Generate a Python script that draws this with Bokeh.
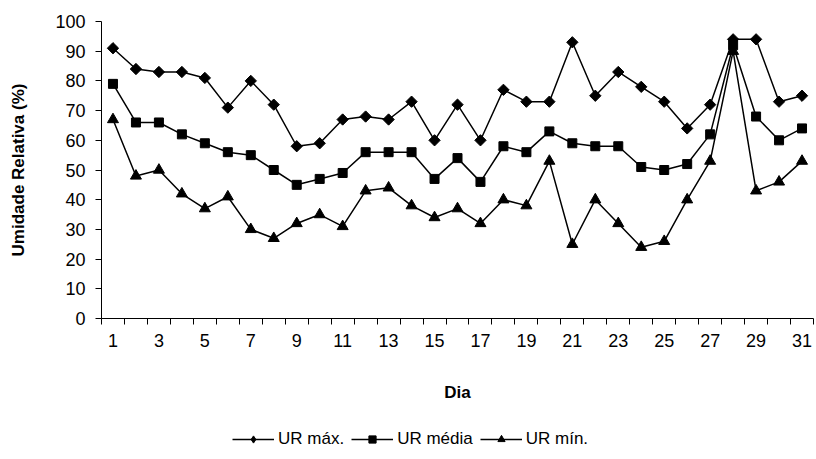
import math
from bokeh.plotting import figure
from bokeh.layouts import column
from bokeh.models import FixedTicker, Range1d, Legend, LegendItem, ColumnDataSource
from bokeh.embed import file_html
from bokeh.resources import INLINE

# Daily relative humidity (%)
dias = list(range(1, 32))
ur_max = [91, 84, 83, 83, 81, 71, 80, 72, 58, 59, 67, 68, 67, 73, 60, 72,
          60, 77, 73, 73, 93, 75, 83, 78, 73, 64, 72, 94, 94, 73, 75]
ur_media = [79, 66, 66, 62, 59, 56, 55, 50, 45, 47, 49, 56, 56, 56, 47, 54,
            46, 58, 56, 63, 59, 58, 58, 51, 50, 52, 62, 92, 68, 60, 64]
ur_min = [67, 48, 50, 42, 37, 41, 30, 27, 32, 35, 31, 43, 44, 38, 34, 37,
          32, 40, 38, 53, 25, 40, 32, 24, 26, 40, 53, 90, 43, 46, 53]
series_names = ["UR máx.", "UR média", "UR mín."]

FONT = "Liberation Sans"
TICK_SIZE = "18px"
LABEL_SIZE = "17px"
LEGEND_SIZE = "17px"

p = figure(width=816, height=420, output_backend="svg", toolbar_location=None,
           x_range=Range1d(0.5, 31.5), y_range=Range1d(0, 100),
           min_border_left=101, min_border_right=3, min_border_top=21,
           min_border_bottom=102)
p.outline_line_color = None
p.grid.visible = False
p.background_fill_color = "white"
p.border_fill_color = "white"

src = ColumnDataSource(dict(x=dias, mx=ur_max, md=ur_media, mn=ur_min))

# (column, marker, size, angle) — the diamond is a square turned 45 degrees
styles = [("mx", "square", 8, math.pi / 4),
          ("md", "square", 9, 0.0),
          ("mn", "triangle", 11, 0.0)]
legend_markers = ["diamond", "square", "triangle"]

for col, marker, size, ang in styles:
    p.line("x", col, source=src, line_color="black", line_width=1.5)
    p.scatter("x", col, source=src, marker=marker, size=size, angle=ang,
              fill_color="black", line_color="black")

# x axis: labels on odd days, tick marks between categories
p.xaxis.ticker = FixedTicker(ticks=list(range(1, 32, 2)),
                             minor_ticks=[d + 0.5 for d in range(0, 32)])
p.xaxis.major_tick_line_color = None
p.xaxis.major_tick_out = 6
p.xaxis.minor_tick_line_color = "black"
p.xaxis.minor_tick_out = 6
p.xaxis.minor_tick_in = 0
p.xaxis.major_label_standoff = 9
p.xaxis.axis_label = "Dia"
p.xaxis.axis_label_standoff = 33

p.yaxis.ticker = FixedTicker(ticks=list(range(0, 101, 10)))
p.yaxis.minor_tick_line_color = None
p.yaxis.major_tick_out = 6
p.yaxis.major_tick_in = 0
p.yaxis.major_label_standoff = 10
p.yaxis.axis_label = "Umidade Relativa (%)"
p.yaxis.axis_label_standoff = 24

for ax in (p.xaxis, p.yaxis):
    ax.axis_line_color = "black"
    ax.axis_line_width = 1
    ax.major_label_text_font = FONT
    ax.major_label_text_font_size = TICK_SIZE
    ax.major_label_text_color = "black"
    ax.axis_label_text_font = FONT
    ax.axis_label_text_font_size = LABEL_SIZE
    ax.axis_label_text_font_style = "bold"
    ax.axis_label_text_color = "black"

# legend strip below the chart; its renderers sit outside the visible range
leg = figure(width=816, height=39, output_backend="svg", toolbar_location=None,
             x_range=Range1d(100, 101), y_range=Range1d(200, 201),
             min_border=0, x_axis_type=None, y_axis_type=None)
leg.outline_line_color = None
leg.grid.visible = False
items = []
for (col, _, size, _a), marker, name in zip(styles, legend_markers, series_names):
    ln = leg.line("x", col, source=src, line_color="black", line_width=1.5)
    sc = leg.scatter("x", col, source=src, marker=marker, size=size,
                     fill_color="black", line_color="black")
    items.append(LegendItem(label=name, renderers=[ln, sc]))

legend = Legend(items=items, orientation="horizontal", location=(131, 10),
                glyph_width=42, glyph_height=18, label_standoff=4, spacing=7,
                padding=0, margin=0, border_line_color=None,
                background_fill_alpha=0, label_text_color="black",
                label_text_font=FONT, label_text_font_size=LEGEND_SIZE)
leg.add_layout(legend, "center")

open("out.html", "w").write(file_html(column(p, leg, spacing=0), INLINE))
